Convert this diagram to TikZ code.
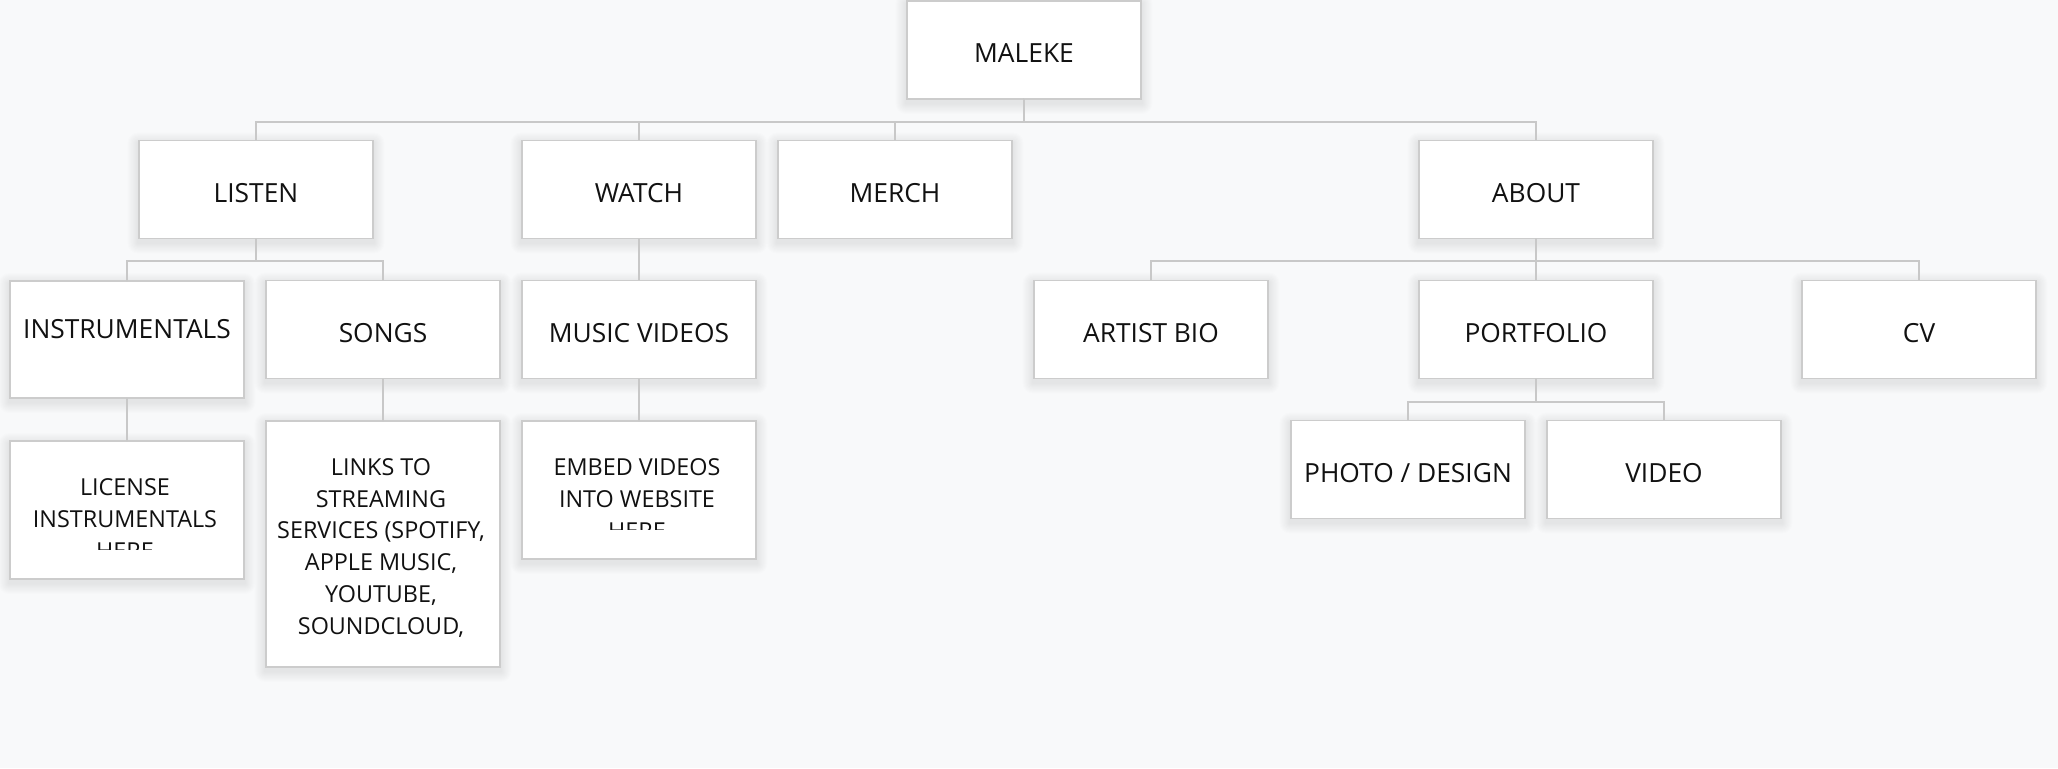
\documentclass[tikz,border=0pt]{standalone}
\usepackage{fontspec}
\setmainfont{Open Sans}
\usetikzlibrary{backgrounds}
\definecolor{bgpage}{RGB}{248,249,250}
\definecolor{boxline}{RGB}{204,204,204}
\definecolor{linkline}{RGB}{200,200,200}
\definecolor{ink}{RGB}{17,17,17}

\begin{document}
\begin{tikzpicture}[x=.02cm,y=-.02cm,line cap=round,
  box/.style={draw=boxline,line width=1.1pt,fill=white,
    minimum width=4.68cm,minimum height=1.96cm,inner sep=0pt},
  txt/.style={text=ink,font=\fontsize{15}{18.2}\selectfont,align=center,inner sep=0pt},
  small/.style={text=ink,font=\fontsize{13.3}{18.2}\selectfont,align=center,inner sep=0pt},
  link/.style={draw=linkline,line width=1.1pt}]
  \useasboundingbox (0,0) rectangle (2058,768);

  % top
  \node[box] (maleke) at (1024,50) {};
  \node[txt] (maleketext) at (1024,53) {MALEKE};

  % first row
  \node[box] (listen) at (256,189.5) {};
  \node[box] (watch) at (639,189.5) {};
  \node[box] (merch) at (895,189.5) {};
  \node[box] (about) at (1536,189.5) {};
  \node[txt] (listentext) at (256,193) {LISTEN};
  \node[txt] (watchtext) at (639,193) {WATCH};
  \node[txt] (merchtext) at (895,193) {MERCH};
  \node[txt] (abouttext) at (1536,193) {ABOUT};

  % second row
  \node[box,minimum height=2.34cm] (instr) at (127,339.5) {};
  \node[box] (songs) at (383,329.5) {};
  \node[box] (mvideos) at (639,329.5) {};
  \node[box] (bio) at (1151,329.5) {};
  \node[box] (portfolio) at (1536,329.5) {};
  \node[box] (cv) at (1919,329.5) {};
  \node[txt] (instrtext) at (127,329) {INSTRUMENTALS};
  \node[txt] (songstext) at (383,333) {SONGS};
  \node[txt] (mvideostext) at (639,333) {MUSIC VIDEOS};
  \node[txt] (biotext) at (1151,333) {ARTIST BIO};
  \node[txt] (portfoliotext) at (1536,333) {PORTFOLIO};
  \node[txt] (cvtext) at (1919,333) {CV};

  % third row
  \node[box,minimum height=2.76cm] (license) at (127,510) {};
  \begin{scope}
    \clip (license.north west) rectangle ([yshift=.6cm]license.south east);
    \node[small] (licensetext) at (125,519) {LICENSE\\INSTRUMENTALS\\HERE};
  \end{scope}
  \node[box,minimum height=4.92cm] (links) at (383,544) {};
  \node[small] (linkstext) at (381,548)
    {LINKS TO\\STREAMING\\SERVICES (SPOTIFY,\\APPLE MUSIC,\\YOUTUBE,\\SOUNDCLOUD,};
  \node[box,minimum height=2.76cm] (embed) at (639,490) {};
  \begin{scope}
    \clip (embed.north west) rectangle ([yshift=.6cm]embed.south east);
    \node[small] (embedtext) at (637,499) {EMBED VIDEOS\\INTO WEBSITE\\HERE};
  \end{scope}
  \node[box] (photo) at (1408,469.5) {};
  \node[box] (video) at (1664,469.5) {};
  \node[txt] (phototext) at (1408,473) {PHOTO / DESIGN};
  \node[txt] (videotext) at (1664,473) {VIDEO};

  % connectors
  \foreach \child in {listen,watch,merch,about}
    \draw[link] (maleke.south) -- ++(0,22) -| (\child.north);
  \foreach \child in {instr,songs}
    \draw[link] (listen.south) -- ++(0,22) -| (\child.north);
  \foreach \child in {bio,portfolio,cv}
    \draw[link] (about.south) -- ++(0,22) -| (\child.north);
  \foreach \child in {photo,video}
    \draw[link] (portfolio.south) -- ++(0,23) -| (\child.north);
  \draw[link] (watch) -- (mvideos);
  \draw[link] (instr) -- (license);
  \draw[link] (songs) -- (links);
  \draw[link] (mvideos) -- (embed);

  % page and soft shadows
  \begin{pgfonlayer}{background}
    \fill[bgpage] (0,0) rectangle (2058,768);
    \foreach \n in {maleke,listen,watch,merch,about,instr,songs,mvideos,bio,
        portfolio,cv,license,links,embed,photo,video}
      \foreach \r in {1,...,10}
        \fill[black,opacity=.009,rounded corners=\r*.6pt]
          ([xshift=-\r*.6pt,yshift=\r*.6pt-2pt]\n.north west) rectangle
          ([xshift=\r*.6pt,yshift=-\r*.6pt-2pt]\n.south east);
  \end{pgfonlayer}
\end{tikzpicture}
\end{document}
